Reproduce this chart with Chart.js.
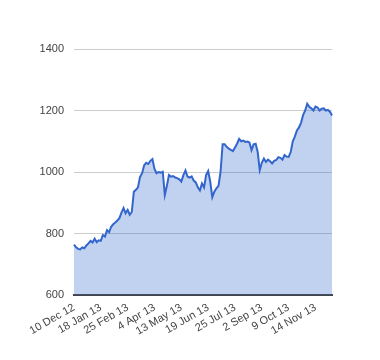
<!DOCTYPE html>
<html>
<head>
<meta charset="utf-8">
<script src="https://cdn.jsdelivr.net/npm/chart.js@4.4.1/dist/chart.umd.min.js"></script>
<style>
html,body{margin:0;padding:0;background:#fff;}
#wrap{width:380px;height:360px;}
</style>
</head>
<body>
<div id="wrap"><canvas id="c" width="380" height="360"></canvas></div>
<script>
// Tick labels shown on the x axis (one every 13 points)
const tickLabels = ["10 Dec 12","18 Jan 13","25 Feb 13","4 Apr 13","13 May 13","19 Jun 13","25 Jul 13","2 Sep 13","9 Oct 13","14 Nov 13"];
const tickEvery = 13;
// Series values
const values = [
 764,755,750,748,755,752,761,768,776,771,
 783,772,778,776,795,790,811,804,822,830,
 836,842,850,868,883,866,877,861,870,936,
 942,950,984,996,1022,1030,1026,1036,1042,1010,
 996,1000,998,1001,925,955,990,985,987,982,
 980,976,969,990,1005,985,982,986,972,966,
 950,940,963,950,990,1003,969,918,936,947,
 955,1000,1090,1090,1082,1076,1072,1068,1080,1092,
 1108,1100,1102,1098,1099,1096,1071,1090,1092,1065,
 1006,1030,1044,1033,1040,1035,1028,1036,1039,1048,
 1046,1040,1055,1050,1049,1065,1100,1115,1135,1145,
 1160,1185,1200,1222,1212,1207,1200,1213,1210,1200,
 1206,1207,1200,1202,1196,1184
];
const yTicks = [600, 800, 1000, 1200, 1400];

const labels = values.map((v, i) => (i % tickEvery === 0 && tickLabels[i / tickEvery]) ? tickLabels[i / tickEvery] : "");

new Chart(document.getElementById('c'), {
  type: 'line',
  data: {
    labels: labels,
    datasets: [{
      data: values,
      borderColor: '#3366cc',
      borderWidth: 2,
      backgroundColor: 'rgba(51,102,204,0.3)',
      fill: 'start',
      pointRadius: 0,
      tension: 0
    }]
  },
  options: {
    responsive: false,
    animation: false,
    layout: { padding: { left: 0, right: 48, top: 49, bottom: 0 } },
    plugins: { legend: { display: false }, tooltip: { enabled: false } },
    scales: {
      x: {
        grid: { display: false, drawTicks: false },
        border: { display: true, color: '#444', width: 2 },
        ticks: {
          autoSkip: false,
          minRotation: 30,
          maxRotation: 30,
          padding: 6,
          color: '#444',
          font: { family: 'Arial, "Liberation Sans", sans-serif', size: 11 },
          callback: function(v, i) { return labels[i] || null; }
        },
        afterFit: function(s) { s.height = 65; }
      },
      y: {
        min: 600,
        max: 1400,
        afterBuildTicks: function(s) { s.ticks = yTicks.map(v => ({ value: v })); },
        grid: { color: '#cccccc', lineWidth: 1, drawTicks: false },
        border: { display: false },
        ticks: {
          padding: 10,
          color: '#444',
          font: { family: 'Arial, "Liberation Sans", sans-serif', size: 11 },
          callback: function(v) { return String(v); }
        },
        afterFit: function(s) { s.width = 74; }
      }
    }
  }
});
</script>
</body>
</html>
